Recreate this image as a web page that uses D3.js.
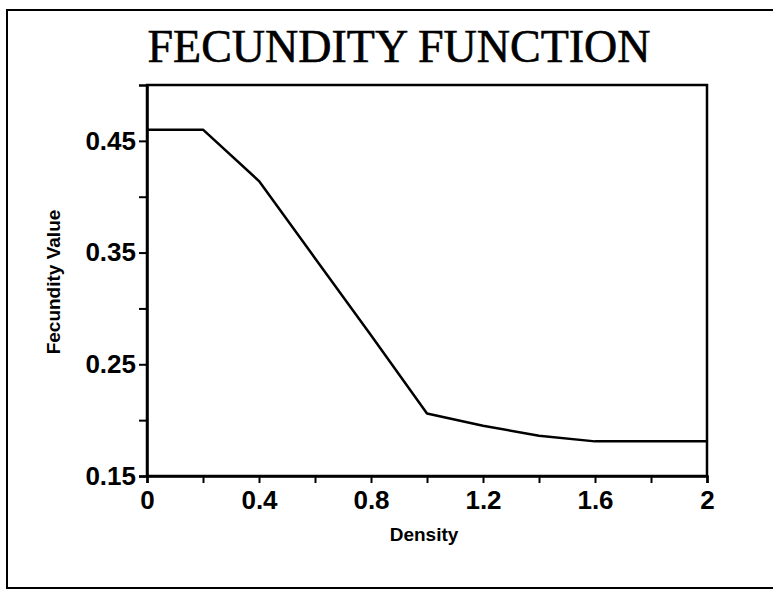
<!DOCTYPE html>
<html>
<head>
<meta charset="utf-8">
<script src="https://cdn.jsdelivr.net/npm/d3@7"></script>
<style>
  html, body { margin: 0; padding: 0; background: #fff; }
  svg { display: block; }
</style>
</head>
<body>
<script>
// ---- data ----
const density = [0, 0.2, 0.4, 0.6, 0.8, 1.0, 1.2, 1.4, 1.6, 1.8, 2.0];
const fecundity = [0.46, 0.46, 0.414, 0.345, 0.276, 0.206, 0.195, 0.186, 0.181, 0.181, 0.181];
const xTicks = [0, 0.2, 0.4, 0.6, 0.8, 1.0, 1.2, 1.4, 1.6, 1.8, 2.0];
const xTickLabels = ["0", "", "0.4", "", "0.8", "", "1.2", "", "1.6", "", "2"];
const yTicks = [0.15, 0.2, 0.25, 0.3, 0.35, 0.4, 0.45];
const yTickLabels = ["0.15", "", "0.25", "", "0.35", "", "0.45"];
const title = "FECUNDITY FUNCTION";
const xTitle = "Density";
const yTitle = "Fecundity Value";

const W = 773, H = 591;
const margin = { left: 147, right: 66, top: 85, bottom: 115 };
const pw = W - margin.left - margin.right;
const ph = H - margin.top - margin.bottom;

const svg = d3.select("body").append("svg").attr("width", W).attr("height", H);

// outer border
svg.append("rect")
  .attr("x", 7).attr("y", 10).attr("width", 820).attr("height", 578)
  .attr("fill", "none").attr("stroke", "#000").attr("stroke-width", 2);

// title
svg.append("text")
  .attr("x", 399).attr("y", 62)
  .attr("text-anchor", "middle")
  .attr("font-family", "'Liberation Serif', 'Times New Roman', serif")
  .attr("font-size", 46)
  .attr("fill", "#000")
  .attr("stroke", "#000").attr("stroke-width", 0.6)
  .text(title);

const x = d3.scaleLinear().domain([0, 2]).range([0, pw]);
const y = d3.scaleLinear().domain([0.15, 0.5]).range([ph, 0]);

const g = svg.append("g").attr("transform", `translate(${margin.left},${margin.top})`);

// frame
g.append("rect")
  .attr("x", 0).attr("y", 0).attr("width", pw).attr("height", ph)
  .attr("fill", "none").attr("stroke", "#000").attr("stroke-width", 2.5);

// x axis
const xAxis = d3.axisBottom(x)
  .tickValues(xTicks)
  .tickSize(7)
  .tickPadding(8)
  .tickFormat((d, i) => xTickLabels[i]);
const gx = g.append("g").attr("transform", `translate(0,${ph})`).call(xAxis);
gx.select(".domain").attr("stroke-width", 2.5);
gx.selectAll(".tick line").attr("stroke-width", 2);
gx.selectAll(".tick text")
  .attr("font-family", "'Liberation Sans', Arial, sans-serif")
  .attr("font-size", 26).attr("font-weight", "bold").attr("fill", "#000");

// y axis
const yAxis = d3.axisLeft(y)
  .tickValues(yTicks)
  .tickSize(8)
  .tickPadding(3)
  .tickFormat((d, i) => yTickLabels[i]);
const gy = g.append("g").call(yAxis);
gy.select(".domain").attr("stroke-width", 2.5);
gy.selectAll(".tick line").attr("stroke-width", 2);
gy.selectAll(".tick text")
  .attr("font-family", "'Liberation Sans', Arial, sans-serif")
  .attr("font-size", 26).attr("font-weight", "bold").attr("fill", "#000");

// data line
const line = d3.line()
  .x((d, i) => x(density[i]))
  .y(d => y(d));
g.append("path")
  .datum(fecundity)
  .attr("d", line)
  .attr("fill", "none")
  .attr("stroke", "#000")
  .attr("stroke-width", 2.5)
  .attr("stroke-linejoin", "round");

// axis titles
svg.append("text")
  .attr("x", 424).attr("y", 541)
  .attr("text-anchor", "middle")
  .attr("font-family", "'Liberation Sans', Arial, sans-serif")
  .attr("font-size", 19).attr("font-weight", "bold")
  .text(xTitle);

svg.append("text")
  .attr("transform", "translate(60,282) rotate(-90)")
  .attr("text-anchor", "middle")
  .attr("font-family", "'Liberation Sans', Arial, sans-serif")
  .attr("font-size", 19).attr("font-weight", "bold")
  .text(yTitle);
</script>
</body>
</html>
